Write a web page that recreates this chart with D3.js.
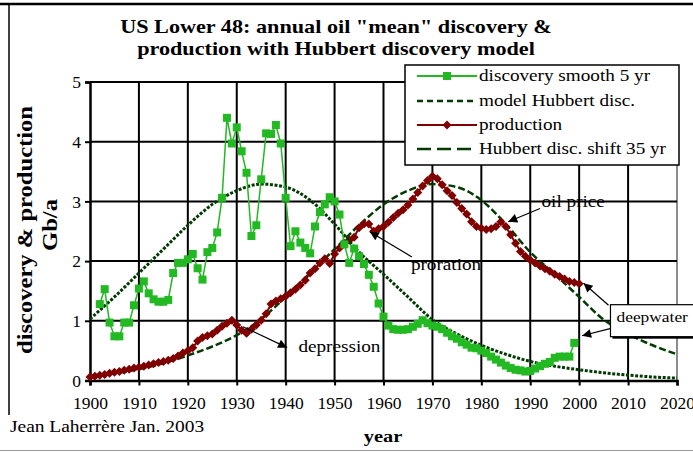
<!DOCTYPE html>
<html>
<head>
<meta charset="utf-8">
<script src="https://cdn.jsdelivr.net/npm/d3@7/dist/d3.min.js"></script>
<style>
  html, body { margin: 0; padding: 0; background: #fff; }
  svg { display: block; }
  text { font-family: "Liberation Serif", "Times New Roman", serif; fill: #000; }
</style>
</head>
<body>
<svg id="chart" width="693" height="452"></svg>
<script>
// ---- data -------------------------------------------------------------
const discoveryStart = 1902; // 5-year centred smoothing, Gb/a
const discovery = [
  1.28, 1.53, 0.97, 0.74, 0.74, 0.97, 0.97, 1.26, 1.54, 1.66,
  1.46, 1.36, 1.32, 1.32, 1.35, 1.80, 1.97, 1.97, 2.03, 2.12,
  1.88, 1.69, 2.15, 2.22, 2.48, 3.06, 4.40, 3.97, 4.24, 3.84,
  3.48, 2.42, 2.60, 3.37, 4.14, 4.13, 4.28, 3.97, 3.06, 2.25,
  2.50, 2.31, 2.22, 2.13, 2.58, 2.82, 2.95, 3.07, 3.00, 2.78,
  2.28, 1.97, 2.21, 2.08, 1.95, 1.77, 1.57, 1.29, 1.07, 0.92,
  0.86, 0.85, 0.85, 0.86, 0.90, 0.95, 1.01, 0.96, 0.92, 0.90,
  0.86, 0.80, 0.74, 0.70, 0.64, 0.60, 0.55, 0.54, 0.50, 0.46,
  0.40, 0.35, 0.30, 0.25, 0.21, 0.18, 0.17, 0.15, 0.16, 0.20,
  0.24, 0.28, 0.31, 0.38, 0.40, 0.40, 0.40, 0.63
];

const productionStart = 1900; // annual production, Gb/a
const production = [
  0.06, 0.07, 0.09, 0.10, 0.12, 0.14, 0.15, 0.17, 0.19, 0.21,
  0.22, 0.24, 0.26, 0.28, 0.30, 0.32, 0.34, 0.37, 0.41, 0.46,
  0.50, 0.55, 0.66, 0.72, 0.75, 0.78, 0.84, 0.91, 0.96, 1.01,
  0.93, 0.84, 0.79, 0.86, 0.93, 1.01, 1.12, 1.28, 1.33, 1.37,
  1.41, 1.47, 1.53, 1.60, 1.68, 1.80, 1.87, 1.97, 2.04, 1.96,
  2.12, 2.22, 2.30, 2.35, 2.40, 2.56, 2.62, 2.62, 2.50, 2.54,
  2.58, 2.65, 2.73, 2.80, 2.86, 2.94, 3.04, 3.15, 3.26, 3.35,
  3.42, 3.38, 3.28, 3.18, 3.10, 2.98, 2.88, 2.79, 2.66, 2.58,
  2.55, 2.53, 2.54, 2.58, 2.66, 2.58, 2.44, 2.30, 2.16, 2.08,
  2.02, 1.97, 1.92, 1.87, 1.83, 1.78, 1.74, 1.70, 1.66, 1.64,
  1.62
];

const modelYears = [1900, 1905, 1910, 1915, 1920, 1925, 1930, 1935, 1940, 1945,
  1950, 1955, 1960, 1965, 1970, 1975, 1980, 1985, 1990, 1995,
  2000, 2005, 2010, 2015, 2020];
const modelHubbert = [1.03, 1.40, 1.80, 2.20, 2.60, 2.95, 3.18, 3.29, 3.24, 3.02,
  2.62, 2.15, 1.78, 1.40, 1.02, 0.78, 0.59, 0.44, 0.32, 0.24,
  0.18, 0.13, 0.09, 0.06, 0.04];
const shiftHubbert = [0.07, 0.12, 0.19, 0.29, 0.42, 0.57, 0.76, 1.03, 1.40, 1.80,
  2.20, 2.60, 2.95, 3.18, 3.29, 3.24, 3.02, 2.62, 2.15, 1.78,
  1.40, 1.02, 0.78, 0.59, 0.44];

const yearTicks = [1900, 1910, 1920, 1930, 1940, 1950, 1960, 1970, 1980, 1990, 2000, 2010, 2020];
const valueTicks = [0, 1, 2, 3, 4, 5];

const titleLines = ['US Lower 48: annual oil "mean" discovery &', 'production with Hubbert discovery model'];
const legendLabels = ["discovery smooth 5 yr", "model Hubbert disc.", "production", "Hubbert disc. shift 35 yr"];

// annotation arrows: [tail year, tail value, head year, head value]
const notes = [
  { text: "depression", tx: 1942.6, ty: 0.47, arrows: [[1931.3, 0.90, 1940.3, 0.55]] },
  { text: "proration",  tx: 1965.6, ty: 1.85, arrows: [[1965.8, 2.07, 1957.2, 2.49]] },
  { text: "oil price",  tx: 1992.3, ty: 2.90, arrows: [[1992.0, 2.88, 1985.5, 2.66]] }
];
const deepwaterArrows = [[2006.0, 1.26, 2000.9, 1.63], [2006.3, 0.87, 2000.6, 0.75]];

// ---- layout -----------------------------------------------------------
const svg = d3.select("#chart");
const x = d3.scaleLinear().domain([1900, 2020]).range([90, 677]);
const y = d3.scaleLinear().domain([0, 5]).range([380.5, 82]);

const GREEN = "#22b922", DKGREEN = "#023a02", RED = "#800000";
const SX = 1.2; // glyphs in this chart are drawn a little wide

function label(parent, px, py, s, o = {}) {
  return parent.append("text")
    .attr("transform", `translate(${px},${py}) rotate(${o.rot || 0}) scale(${o.sx || SX},1)`)
    .attr("text-anchor", o.anchor || "start")
    .style("font-size", (o.size || 16) + "px")
    .style("font-weight", o.bold ? "bold" : "normal")
    .text(s);
}

// outer frame
svg.append("line").attr("x1", 0).attr("x2", 693).attr("y1", 4).attr("y2", 4)
  .attr("stroke", "#000").attr("stroke-width", 2.5);
svg.append("line").attr("x1", 9).attr("x2", 9).attr("y1", 4).attr("y2", 415)
  .attr("stroke", "#000").attr("stroke-width", 1.5);
svg.append("line").attr("x1", 0).attr("x2", 693).attr("y1", 450.5).attr("y2", 450.5)
  .attr("stroke", "#9a9a9a").attr("stroke-width", 1);

// title
titleLines.forEach((s, i) => label(svg, 336, 33 + i * 22, s, { size: 18.5, bold: true, anchor: "middle" }));

// grid
const grid = svg.append("g");
grid.selectAll("line.v").data(yearTicks.slice(1)).join("line")
  .attr("x1", d => x(d)).attr("x2", d => x(d)).attr("y1", y(5)).attr("y2", y(0))
  .attr("stroke", d => d === 2020 ? "#8c8c8c" : "#000").attr("stroke-width", 2);
grid.selectAll("line.h").data(valueTicks.slice(1)).join("line")
  .attr("x1", x(1900)).attr("x2", x(2020)).attr("y1", d => y(d)).attr("y2", d => y(d))
  .attr("stroke", "#000").attr("stroke-width", 2);

// axes
const ax = svg.append("g").attr("transform", `translate(0,${y(0)})`)
  .call(d3.axisBottom(x).tickValues(yearTicks).tickFormat(d3.format("d")).tickSize(5).tickPadding(11));
const ay = svg.append("g").attr("transform", `translate(${x(1900)},0)`)
  .call(d3.axisLeft(y).tickValues(valueTicks).tickFormat(d3.format("d")).tickSize(5).tickPadding(4));
[ax, ay].forEach(a => {
  a.select(".domain").attr("stroke", "#000").attr("stroke-width", 2.5);
  a.selectAll(".tick line").attr("stroke", "#000").attr("stroke-width", 2);
  a.selectAll(".tick text").style("font-family", '"Liberation Serif", "Times New Roman", serif')
    .style("font-size", "17.5px").attr("fill", "#000");
});

// axis titles and credit
label(svg, 32, 230, "discovery & production", { size: 20.5, bold: true, anchor: "middle", rot: -90 });
label(svg, 57, 225, "Gb/a", { size: 20.5, bold: true, anchor: "middle", rot: -90 });
label(svg, 383, 442, "year", { size: 17, bold: true, anchor: "middle" });
label(svg, 10, 432, "Jean Laherrère Jan. 2003", { size: 16.2 });

// series
const plot = svg.append("g");
const disc = discovery.map((v, i) => [discoveryStart + i, v]);
const prod = production.map((v, i) => [productionStart + i, v]);
const model = modelYears.map((yr, i) => [yr, modelHubbert[i]]);
const shifted = modelYears.map((yr, i) => [yr, shiftHubbert[i]]);

const straight = d3.line().x(d => x(d[0])).y(d => y(d[1]));
const smooth = d3.line().x(d => x(d[0])).y(d => y(d[1])).curve(d3.curveMonotoneX);

plot.append("path").datum(shifted).attr("d", smooth).attr("fill", "none")
  .attr("stroke", DKGREEN).attr("stroke-width", 2.5).attr("stroke-dasharray", "7,3");

plot.append("path").datum(prod).attr("d", straight).attr("fill", "none")
  .attr("stroke", RED).attr("stroke-width", 2);
const diamond = "M0,-4.5L4.5,0L0,4.5L-4.5,0Z";
plot.selectAll("path.prod").data(prod).join("path").attr("class", "prod")
  .attr("d", diamond).attr("transform", d => `translate(${x(d[0])},${y(d[1])})`).attr("fill", RED);

plot.append("path").datum(model).attr("d", smooth).attr("fill", "none")
  .attr("stroke", DKGREEN).attr("stroke-width", 3).attr("stroke-dasharray", "3,1.6");

plot.append("path").datum(disc).attr("d", straight).attr("fill", "none")
  .attr("stroke", GREEN).attr("stroke-width", 1.5);
plot.selectAll("rect.disc").data(disc).join("rect").attr("class", "disc")
  .attr("x", d => x(d[0]) - 4).attr("y", d => y(d[1]) - 4).attr("width", 8).attr("height", 8)
  .attr("fill", GREEN);

// annotations
const defs = svg.append("defs");
defs.append("marker").attr("id", "head").attr("viewBox", "0 0 10 10").attr("refX", 10).attr("refY", 5)
  .attr("markerWidth", 11).attr("markerHeight", 9).attr("markerUnits", "userSpaceOnUse").attr("orient", "auto")
  .append("path").attr("d", "M0,0L10,5L0,10Z").attr("fill", "#000");

const ann = svg.append("g");
function arrow(a) {
  ann.append("line").attr("x1", x(a[0])).attr("y1", y(a[1])).attr("x2", x(a[2])).attr("y2", y(a[3]))
    .attr("stroke", "#000").attr("stroke-width", 1.2).attr("marker-end", "url(#head)");
}
notes.forEach(n => {
  n.arrows.forEach(arrow);
  label(ann, x(n.tx), y(n.ty), n.text, { size: 16 });
});

// deepwater callout box
const bx = x(2006.4), by = y(1.27), bh = 32;
ann.append("rect").attr("x", bx + 2).attr("y", by + 2).attr("width", 120).attr("height", bh).attr("fill", "#000");
ann.append("rect").attr("x", bx).attr("y", by).attr("width", 120).attr("height", bh)
  .attr("fill", "#fff").attr("stroke", "#000").attr("stroke-width", 1.2);
label(ann, bx + 6, by + 17, "deepwater", { size: 14.5 });
deepwaterArrows.forEach(arrow);

// legend
const lg = svg.append("g").attr("transform", "translate(405,65)");
lg.append("rect").attr("width", 274).attr("height", 100).attr("fill", "#fff")
  .attr("stroke", "#000").attr("stroke-width", 1.5);
const rowY = [11, 36, 60, 84];
const styles = [
  { stroke: GREEN, w: 2, dash: null, mark: "square" },
  { stroke: DKGREEN, w: 2.5, dash: "6,4", mark: null },
  { stroke: RED, w: 2, dash: null, mark: "diamond" },
  { stroke: DKGREEN, w: 2.5, dash: "14,6", mark: null }
];
legendLabels.forEach((s, i) => {
  const st = styles[i], ry = rowY[i];
  lg.append("line").attr("x1", 12).attr("x2", 72).attr("y1", ry).attr("y2", ry)
    .attr("stroke", st.stroke).attr("stroke-width", st.w).attr("stroke-dasharray", st.dash);
  if (st.mark === "square") lg.append("rect").attr("x", 38).attr("y", ry - 4).attr("width", 8).attr("height", 8).attr("fill", GREEN);
  if (st.mark === "diamond") lg.append("path").attr("d", diamond).attr("transform", `translate(42,${ry})`).attr("fill", RED);
  label(lg, 74, ry + 5, s, { size: 16 });
});
</script>
</body>
</html>
